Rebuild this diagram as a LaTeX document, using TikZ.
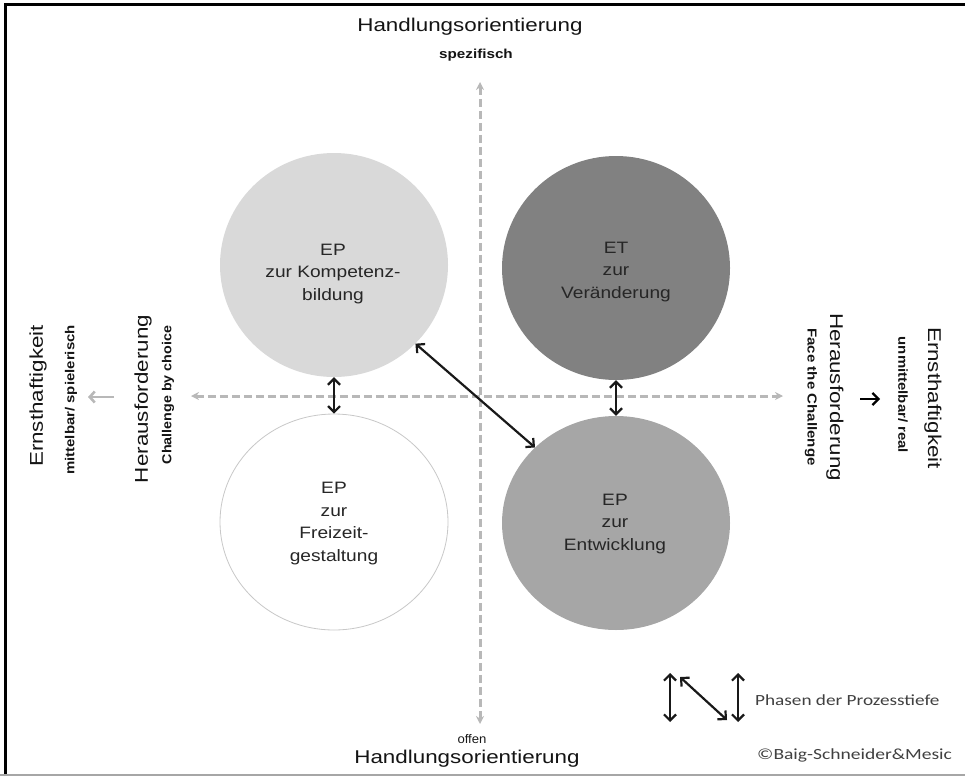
\documentclass[tikz,border=0pt]{standalone}
\usepackage{fontspec}
\setmainfont{Liberation Sans}
\newfontfamily\calibri{Carlito}
\usetikzlibrary{shapes.geometric,arrows.meta}
\newcommand{\sx}[2]{\scalebox{#1}[1]{#2}}
\newcommand{\ml}[1]{\begin{tabular}{@{}c@{}}#1\end{tabular}}
\definecolor{cKB}{HTML}{D9D9D9}
\definecolor{cVE}{HTML}{818181}
\definecolor{cEN}{HTML}{A6A6A6}
\definecolor{cFG}{HTML}{C8C8C8}
\definecolor{axisgray}{HTML}{B8B8B8}
\begin{document}
\begin{tikzpicture}[x=1pt,y=-1pt]
\tikzset{
 blob/.style={ellipse, inner sep=0pt, minimum width=228pt, minimum height=224pt},
 ctext/.style={font=\fontsize{16.5}{22.5}\selectfont, text=black!85, inner sep=0pt, align=center},
 biglab/.style={font=\fontsize{18.5}{20}\selectfont, text=black!92, inner sep=0pt},
 smallbold/.style={font=\fontsize{13}{14}\selectfont\bfseries, text=black!92, inner sep=0pt},
 axisline/.style={draw=axisgray, line width=3pt, dash pattern=on 8pt off 4pt},
 axisarrows/.style={axisline, {Stealth[length=8pt,width=8pt]}-{Stealth[length=8pt,width=8pt]}},
 link/.style={draw=black!90, line width=2.2pt, {Straight Barb[length=6pt,width=12pt]}-{Straight Barb[length=6pt,width=12pt]}},
 legtext/.style={font=\calibri\fontsize{15.5}{17}\selectfont, text=black!75, inner sep=0pt, anchor=west},
}
\path[use as bounding box] (0,0) rectangle (965,776);
% frame
\draw[black, line width=3pt] (5,776) -- (5,5) -- (965,5);
\draw[black!35, line width=2pt] (0,774.5) -- (965,774.5);

% axes
\coordinate (vtop) at (480,82);
\coordinate (vbot) at (480,724);
\coordinate (hleft) at (191,396);
\coordinate (hright) at (783,396);
\draw[axisarrows] (vtop) -- (vbot);
\draw[axisarrows] (hleft) -- (hright);
\coordinate (la1) at (114,397);
\coordinate (la2) at (88,397);
\draw[draw=axisgray, line width=2.6pt, -{Straight Barb[length=5pt,width=11pt]}] (la1) -- (la2);
\coordinate (ra1) at (860,399);
\coordinate (ra2) at (880,399);
\draw[draw=black, line width=2.2pt, -{Straight Barb[length=6pt,width=12pt]}] (ra1) -- (ra2);

% circles
\node[blob, fill=cKB] (KB) at (334,265) {};
\node[blob, fill=cVE] (VE) at (616,268) {};
\node[blob, fill=white, draw=cFG, line width=0.8pt, minimum height=216pt] (FG) at (334,522) {};
\node[blob, fill=cEN, minimum height=214pt] (EN) at (616,523) {};

\node[ctext] (tKB) at (333,273) {\sx{1.16}{\ml{EP\\zur Kompetenz-\\bildung}}};
\node[ctext] (tVE) at (616,271) {\sx{1.16}{\ml{ET\\zur\\Veränderung}}};
\node[ctext] (tFG) at (334,523) {\sx{1.16}{\ml{EP\\zur\\Freizeit-\\gestaltung}}};
\node[ctext] (tEN) at (615,523) {\sx{1.16}{\ml{EP\\zur\\Entwicklung}}};

% black links
\draw[link] (KB.south) -- (FG.north);
\draw[link] (VE.south) -- (EN.north);
\draw[link] (KB.-44) -- (EN.137);

% axis labels
\node[biglab] (htop) at (470,27) {\sx{1.21}{Handlungsorientierung}};
\node[smallbold] (spez) at (476,55) {\sx{1.17}{spezifisch}};
\node[font=\fontsize{12.5}{14}\selectfont, text=black!90, inner sep=0pt] (offen) at (472,739) {\sx{1.05}{offen}};
\node[biglab] (hbot) at (467,759) {\sx{1.21}{Handlungsorientierung}};

\node[biglab, rotate=90] (eL) at (38,396) {\sx{1.21}{Ernsthaftigkeit}};
\node[smallbold, rotate=90] (mL) at (71,400) {\sx{1.15}{mittelbar/ spielerisch}};
\node[biglab, rotate=90] (hL) at (143,399) {\sx{1.21}{Herausforderung}};
\node[smallbold, rotate=90] (cL) at (168,395) {\sx{1.1}{Challenge by choice}};

\node[biglab, rotate=-90] (hR) at (835,397) {\sx{1.21}{Herausforderung}};
\node[smallbold, rotate=-90] (fR) at (811,397) {\sx{1.16}{Face the Challenge}};
\node[smallbold, rotate=-90] (uR) at (903,395) {\sx{1.15}{unmittelbar/ real}};
\node[biglab, rotate=-90] (eR) at (933,398) {\sx{1.21}{Ernsthaftigkeit}};

% legend
\coordinate (L1a) at (670,673); \coordinate (L1b) at (670,722);
\coordinate (L2a) at (680,677); \coordinate (L2b) at (727,720);
\coordinate (L3a) at (738,673); \coordinate (L3b) at (738,722);
\draw[link] (L1a) -- (L1b);
\draw[link] (L2a) -- (L2b);
\draw[link] (L3a) -- (L3b);
\node[legtext] (phasen) at (755,700) {\sx{1.24}{Phasen der Prozesstiefe}};
\node[legtext] (copy) at (757,755) {\sx{1.26}{©Baig-Schneider\&Mesic}};
\end{tikzpicture}
\end{document}
